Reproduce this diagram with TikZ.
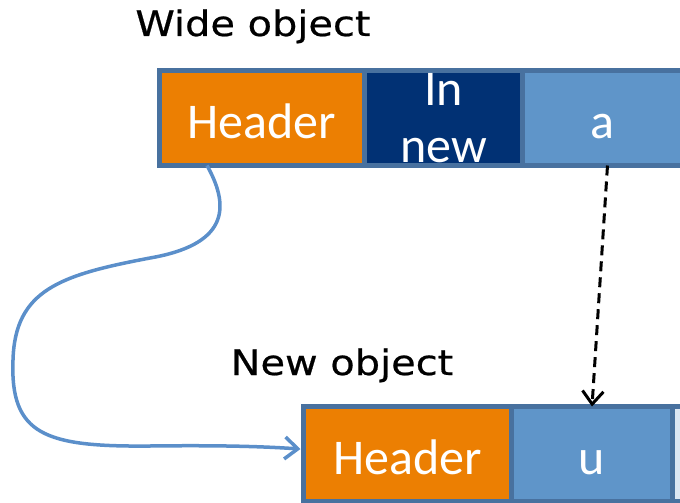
\documentclass[tikz,border=0pt]{standalone}
\usepackage{fontspec}
\usetikzlibrary{arrows.meta,positioning}
\newfontfamily\cellfont{Carlito}
\newfontfamily\handfont[FakeStretch=1.14, FakeBold=0.6]{DejaVu Sans}
\definecolor{framecol}{HTML}{48719F}
\definecolor{hdrorange}{HTML}{EC7F02}
\definecolor{navy}{HTML}{013174}
\definecolor{fieldblue}{HTML}{5F95C9}
\definecolor{paleblue}{HTML}{DCE6F2}
\definecolor{linkblue}{HTML}{5B8FCA}
\begin{document}
\begin{tikzpicture}[x=1pt, y=-1pt,
        cell/.style={draw=framecol, line width=5pt, outer sep=0pt, inner sep=0pt,
            minimum height=95pt, text=white, align=center,
            font=\cellfont\fontsize{50}{57}\selectfont},
        oneline/.style={text height=40pt, text depth=0pt},
        title/.style={anchor=base, font=\handfont\fontsize{35}{40}\selectfont},
        pointer/.style={-{Straight Barb[length=13pt,width=21pt]}, line width=3pt,
            dash pattern=on 10pt off 6pt},
        link/.style={-{Straight Barb[length=13pt,width=22pt]}, line width=3.5pt, linkblue}]
    \useasboundingbox (0,0) rectangle (680,503);
    \clip (0,0) rectangle (680,503);

    % wide object
    \node [title] (widetitle) at (253,36) {Wide object};
    \node [cell, oneline, fill=hdrorange, minimum width=205pt] (header1) at (262,118) {Header};
    \node [cell, fill=navy, minimum width=158pt, right=0pt of header1] (innew) {In\\new};
    \node [cell, oneline, fill=fieldblue, minimum width=160pt, right=0pt of innew] (acell) {a};

    % new object
    \node [title] (newtitle) at (342,375) {New object};
    \node [cell, oneline, fill=hdrorange, minimum width=208pt] (header2) at (407.5,454) {Header};
    \node [cell, oneline, fill=fieldblue, minimum width=161pt, right=0pt of header2] (ucell) {u};
    \node [cell, fill=paleblue, minimum width=100pt, right=0pt of ucell] (rest) {};

    \draw[pointer] ([shift={(5,0)}]acell.south) -- (ucell.north);
    \draw[link] ([shift={(-55,0)}]header1.south)
        .. controls (232,210) and (225,245) .. (150,258)
        .. controls (60,275) and (15,290) .. (13,360)
        .. controls (10,435) and (45,447) .. (150,446)
        .. controls (230,445) and (270,447) .. ([shift={(-3,-5)}]header2.west);
\end{tikzpicture}
\end{document}
